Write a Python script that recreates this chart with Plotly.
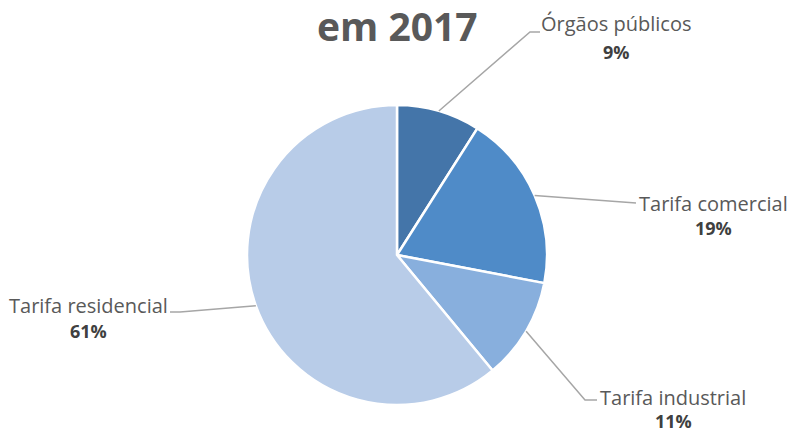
import math
import plotly.graph_objects as go

W, H = 792, 434
categories = ["Órgãos públicos", "Tarifa comercial", "Tarifa industrial", "Tarifa residencial"]
values = [9, 19, 11, 61]
colors = ["#4475A9", "#4F8BC8", "#88AFDD", "#B8CCE8"]
title_text = "em 2017"

# pie geometry in pixels
cx, cy, r = 397, 255, 150

# label layout (pixel positions of text centers and leader-line elbows/ends)
label_layout = [
    dict(tx=616, ty1=24, ty2=52, elbow=(530, 32), end=(540, 32)),
    dict(tx=713, ty1=203, ty2=228, elbow=(636, 203), end=(636, 203)),
    dict(tx=673, ty1=397, ty2=421, elbow=(585, 400), end=(597, 400)),
    dict(tx=88, ty1=305, ty2=331, elbow=(180, 312), end=(170, 312)),
]

def px(x):
    return x / W

def py(y):
    return 1 - y / H

fig = go.Figure(go.Pie(
    labels=categories, values=values, sort=False, direction="clockwise",
    rotation=0, marker=dict(colors=colors, line=dict(color="white", width=2.5)),
    textinfo="none", hoverinfo="label+percent", showlegend=False,
    domain=dict(x=[px(cx - r), px(cx + r)], y=[py(cy + r), py(cy - r)]),
))

total = sum(values)
cum = 0
shapes = []
annotations = []
font = "Open Sans, Liberation Sans, sans-serif"
for cat, v, lay in zip(categories, values, label_layout):
    mid = (cum + v / 2) / total * 2 * math.pi
    cum += v
    sx = cx + r * math.sin(mid)
    sy = cy - r * math.cos(mid)
    ex, ey = lay["elbow"]
    fx, fy = lay["end"]
    path = f"M {px(sx)} {py(sy)} L {px(ex)} {py(ey)} L {px(fx)} {py(fy)}"
    shapes.append(dict(type="path", xref="paper", yref="paper", path=path,
                       line=dict(color="#A6A6A6", width=1.5)))
    annotations.append(dict(x=px(lay["tx"]), y=py(lay["ty1"]), xref="paper", yref="paper",
                            text=cat, showarrow=False, xanchor="center", yanchor="middle",
                            font=dict(family=font, size=20, color="#595959")))
    pct = round(v / total * 100)
    annotations.append(dict(x=px(lay["tx"]), y=py(lay["ty2"]), xref="paper", yref="paper",
                            text=f"<b>{pct}%</b>", showarrow=False, xanchor="center", yanchor="middle",
                            font=dict(family=font, size=18, color="#404040")))

annotations.append(dict(x=px(397), y=py(26), xref="paper", yref="paper", text=f"<b>{title_text}</b>",
                        showarrow=False, xanchor="center", yanchor="middle",
                        font=dict(family=font, size=39, color="#595959")))

fig.update_layout(width=W, height=H, margin=dict(l=0, r=0, t=0, b=0),
                  paper_bgcolor="white", plot_bgcolor="white",
                  shapes=shapes, annotations=annotations)
fig.write_html("out.html")
